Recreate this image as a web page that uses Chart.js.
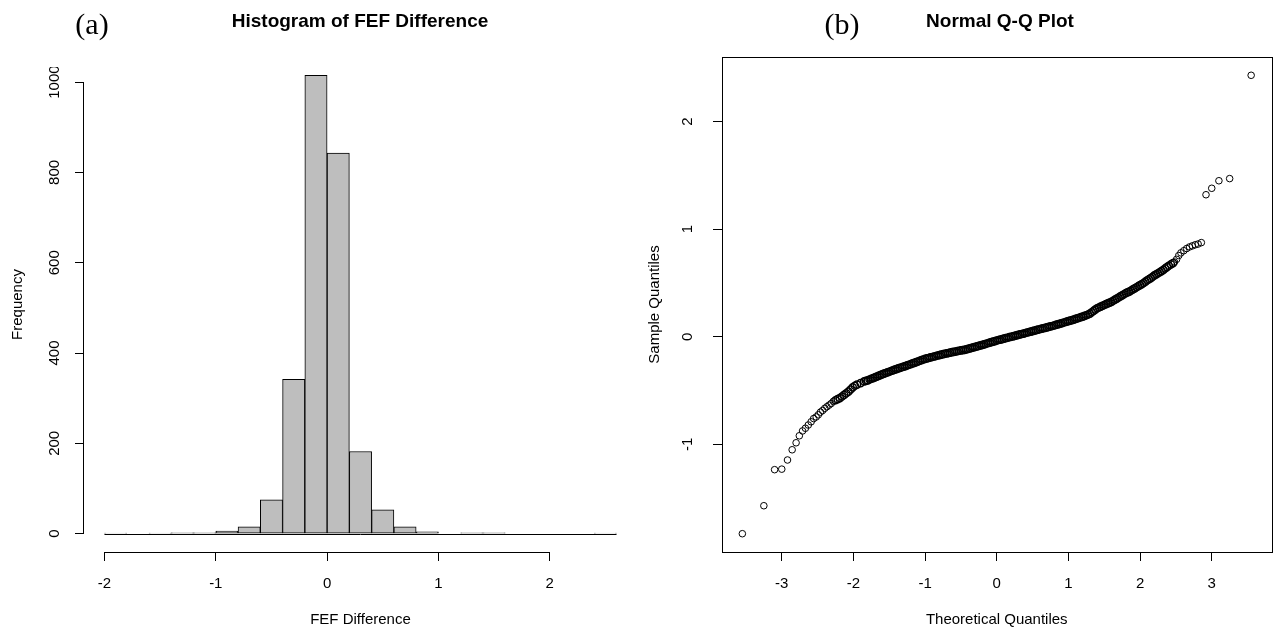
<!DOCTYPE html>
<html>
<head>
<meta charset="utf-8">
<script src="https://cdn.jsdelivr.net/npm/chart.js@4.4.0/dist/chart.umd.min.js"></script>
<style>
  html, body { margin: 0; padding: 0; background: #fff; overflow: hidden; }
  #wrap { position: relative; width: 1274px; height: 631px; }
  canvas { position: absolute; top: 0; }
  #histChart { left: 0; }
  #qqChart { left: 637px; }
</style>
</head>
<body>
<div id="wrap">
  <canvas id="histChart" width="640" height="631"></canvas>
  <canvas id="qqChart" width="640" height="631"></canvas>
</div>
<script>
// (a) histogram, bins of width 0.2
const binEdges = [-2.0, -1.8, -1.6, -1.4, -1.2, -1.0, -0.8, -0.6, -0.4, -0.2, 0.0, 0.2,
                  0.4, 0.6, 0.8, 1.0, 1.2, 1.4, 1.6, 1.8, 2.0, 2.2, 2.4, 2.6];
const binCounts = [1, 0, 1, 2, 2, 6, 15, 75, 342, 1015, 843, 182,
                   53, 15, 4, 0, 2, 2, 0, 0, 0, 0, 1];
const histXTicks = [-2, -1, 0, 1, 2];
const histYTicks = [0, 200, 400, 600, 800, 1000];

// (b) normal Q-Q plot
// sparse points in both tails
const qqTailX = [
  -3.55, -3.25, -3.10, -3.00, -2.92, -2.855, -2.80, -2.755, -2.71, -2.67, -2.63, -2.59,
  -2.555, -2.52, -2.49, -2.46, -2.43, -2.40, -2.37, -2.34, -2.31, -2.28,
  2.48, 2.51, 2.54, 2.57, 2.61, 2.65, 2.69, 2.73, 2.77, 2.81, 2.855,
  2.92, 3.00, 3.10, 3.25, 3.55
];
const qqTailY = [
  -1.83, -1.57, -1.235, -1.23, -1.145, -1.05, -0.985, -0.92, -0.875, -0.85, -0.82, -0.79,
  -0.76, -0.745, -0.725, -0.70, -0.685, -0.665, -0.65, -0.635, -0.62, -0.60,
  0.695, 0.72, 0.755, 0.78, 0.80, 0.82, 0.835, 0.845, 0.855, 0.862, 0.875,
  1.32, 1.38, 1.45, 1.47, 2.43
];
// the dense middle, where the circles pile up into a solid band
const qqBandX = [
  -2.25, -2.22, -2.19, -2.16, -2.13, -2.10, -2.07, -2.04, -2.01, -1.98, -1.95, -1.90, -1.85, -1.825,
  -1.800, -1.775, -1.750, -1.725, -1.700, -1.675, -1.650, -1.625, -1.600, -1.575, -1.550, -1.525,
  -1.500, -1.475, -1.450, -1.425, -1.400, -1.375, -1.350, -1.325, -1.300, -1.275, -1.250, -1.225,
  -1.200, -1.175, -1.150, -1.125, -1.100, -1.075, -1.050, -1.025, -1.000, -0.975, -0.950, -0.925,
  -0.900, -0.875, -0.850, -0.825, -0.800, -0.775, -0.750, -0.725, -0.700, -0.675, -0.650, -0.625,
  -0.600, -0.575, -0.550, -0.525, -0.500, -0.475, -0.450, -0.425, -0.400, -0.375, -0.350, -0.325,
  -0.300, -0.275, -0.250, -0.225, -0.200, -0.175, -0.150, -0.125, -0.100, -0.075, -0.050, -0.025,
  0.000, 0.025, 0.050, 0.075, 0.100, 0.125, 0.150, 0.175, 0.200, 0.225, 0.250, 0.275,
  0.300, 0.325, 0.350, 0.375, 0.400, 0.425, 0.450, 0.475, 0.500, 0.525, 0.550, 0.575,
  0.600, 0.625, 0.650, 0.675, 0.700, 0.725, 0.750, 0.775, 0.800, 0.825, 0.850, 0.875,
  0.900, 0.925, 0.950, 0.975, 1.000, 1.025, 1.050, 1.075, 1.100, 1.125, 1.150, 1.175,
  1.200, 1.225, 1.250, 1.275, 1.300, 1.325, 1.350, 1.375, 1.400, 1.425, 1.450, 1.475,
  1.500, 1.525, 1.550, 1.575, 1.600, 1.625, 1.650, 1.675, 1.700, 1.725, 1.750, 1.775,
  1.800, 1.825, 1.850, 1.875, 1.900, 1.925, 1.950, 1.975, 2.000, 2.025, 2.050, 2.075,
  2.100, 2.125, 2.150, 2.175, 2.200, 2.225, 2.250, 2.275, 2.300, 2.325, 2.350, 2.375, 2.400,
  2.43, 2.46
];
const qqBandY = [
  -0.59, -0.58, -0.57, -0.555, -0.54, -0.525, -0.51, -0.49, -0.47, -0.455, -0.445, -0.43, -0.415, -0.41,
  -0.405, -0.397, -0.390, -0.384, -0.378, -0.370, -0.363, -0.356, -0.350, -0.343, -0.337, -0.331,
  -0.325, -0.318, -0.312, -0.306, -0.300, -0.294, -0.289, -0.283, -0.278, -0.272, -0.266, -0.260,
  -0.255, -0.248, -0.242, -0.236, -0.230, -0.223, -0.217, -0.211, -0.205, -0.201, -0.197, -0.192,
  -0.188, -0.183, -0.179, -0.174, -0.170, -0.166, -0.162, -0.158, -0.155, -0.151, -0.147, -0.143,
  -0.140, -0.137, -0.134, -0.130, -0.127, -0.124, -0.121, -0.117, -0.113, -0.108, -0.103, -0.098,
  -0.094, -0.089, -0.085, -0.080, -0.075, -0.070, -0.065, -0.060, -0.055, -0.050, -0.045, -0.040,
  -0.035, -0.030, -0.026, -0.022, -0.018, -0.013, -0.009, -0.004, 0.000, 0.004, 0.009, 0.013,
  0.018, 0.022, 0.026, 0.030, 0.035, 0.040, 0.044, 0.048, 0.052, 0.057, 0.061, 0.066,
  0.070, 0.075, 0.079, 0.083, 0.087, 0.092, 0.096, 0.100, 0.105, 0.110, 0.115, 0.120,
  0.125, 0.130, 0.135, 0.140, 0.145, 0.150, 0.155, 0.160, 0.166, 0.171, 0.177, 0.182,
  0.188, 0.194, 0.200, 0.207, 0.215, 0.228, 0.240, 0.253, 0.265, 0.272, 0.280, 0.288,
  0.295, 0.303, 0.310, 0.318, 0.325, 0.335, 0.345, 0.355, 0.365, 0.375, 0.385, 0.395,
  0.405, 0.412, 0.420, 0.430, 0.440, 0.450, 0.460, 0.470, 0.480, 0.490, 0.500, 0.512,
  0.525, 0.535, 0.545, 0.558, 0.570, 0.580, 0.590, 0.600, 0.610, 0.622, 0.635, 0.647, 0.660,
  0.672, 0.685
];
const qqXTicks = [-3, -2, -1, 0, 1, 2, 3];
const qqYTicks = [-1, 0, 1, 2];

const sans = '"Liberation Sans", Arial, sans-serif';
const serif = '"Liberation Serif", "Times New Roman", serif';

// R-ish axis pieces that Chart.js does not draw by itself
function rDecor(cfg) {
  return {
    id: 'rDecor',
    afterDraw(chart) {
      const { ctx, chartArea: area } = chart;
      const xs = chart.scales.x, ys = chart.scales.y;
      ctx.save();
      ctx.strokeStyle = '#000';
      ctx.lineWidth = 1;

      if (cfg.box) {
        ctx.strokeRect(Math.round(area.left) + 0.5, Math.round(area.top) + 0.5,
          Math.round(area.right - area.left), Math.round(area.bottom - area.top));
      } else {
        // y axis line from first to last tick, x axis line likewise
        const ax = Math.round(area.left) - 0.5;
        ctx.beginPath();
        ctx.moveTo(ax, ys.getPixelForValue(cfg.yTicks[0]));
        ctx.lineTo(ax, ys.getPixelForValue(cfg.yTicks[cfg.yTicks.length - 1]));
        const by = Math.round(area.bottom) + 0.5;
        ctx.moveTo(xs.getPixelForValue(cfg.xTicks[0]), by);
        ctx.lineTo(xs.getPixelForValue(cfg.xTicks[cfg.xTicks.length - 1]), by);
        ctx.stroke();
        // empty bins show as a flat line along zero
        const zy = Math.round(ys.getPixelForValue(0)) + 0.5;
        ctx.beginPath();
        ctx.moveTo(xs.getPixelForValue(binEdges[0]), zy);
        ctx.lineTo(xs.getPixelForValue(binEdges[binEdges.length - 1]), zy);
        ctx.stroke();
      }

      // rotated y tick labels
      ctx.save();
      if (cfg.clipTop) {
        ctx.beginPath();
        ctx.rect(0, cfg.clipTop, chart.width, chart.height);
        ctx.clip();
      }
      ctx.fillStyle = '#000';
      ctx.font = '15px ' + sans;
      ctx.textAlign = 'center';
      ctx.textBaseline = 'middle';
      cfg.yTicks.forEach(v => {
        ctx.save();
        ctx.translate(cfg.yLabelX, ys.getPixelForValue(v));
        ctx.rotate(-Math.PI / 2);
        ctx.fillText(String(v), 0, 0);
        ctx.restore();
      });
      ctx.restore();

      // main title and panel letter
      ctx.fillStyle = '#000';
      ctx.textAlign = 'center';
      ctx.textBaseline = 'alphabetic';
      ctx.font = 'bold 19px ' + sans;
      ctx.fillText(cfg.title, cfg.titleX, 27);
      ctx.font = '30px ' + serif;
      ctx.fillText(cfg.letter, cfg.letterX, 34);
      ctx.restore();
    }
  };
}

function xAxis(ticks, min, max, title) {
  return {
    type: 'linear',
    position: 'bottom',
    min: min,
    max: max,
    offset: false,
    afterBuildTicks: s => { s.ticks = ticks.map(v => ({ value: v })); },
    afterFit: s => { s.height = 79; },
    border: { display: false },
    grid: { drawOnChartArea: false, offset: false, tickLength: 9, color: '#000' },
    ticks: {
      autoSkip: false, maxRotation: 0, padding: 14, color: '#000',
      font: { family: sans, size: 15 },
      callback: v => String(v)
    },
    title: { display: true, text: title, color: '#000', font: { family: sans, size: 15 },
      padding: { top: 0, bottom: 2 } }
  };
}

function yAxis(ticks, min, max, title, width) {
  return {
    type: 'linear',
    min: min,
    max: max,
    afterBuildTicks: s => { s.ticks = ticks.map(v => ({ value: v })); },
    afterFit: s => { s.width = width; },
    border: { display: false },
    grid: { drawOnChartArea: false, tickLength: 9, color: '#000' },
    ticks: { display: false },
    title: { display: true, text: title, color: '#000', font: { family: sans, size: 15 },
      padding: { top: 8.5, bottom: 0 } }
  };
}

const common = {
  responsive: false,
  animation: false,
  devicePixelRatio: 1,
  plugins: { legend: { display: false }, tooltip: { enabled: false } }
};

new Chart(document.getElementById('histChart'), {
  type: 'bar',
  data: {
    datasets: [{
      data: binCounts.map((c, i) => ({ x: (binEdges[i] + binEdges[i + 1]) / 2, y: c })),
      backgroundColor: '#bebebe',
      borderColor: '#000',
      borderWidth: 1,
      borderSkipped: false,
      barPercentage: 1,
      categoryPercentage: 1
    }]
  },
  options: {
    ...common,
    layout: { padding: { top: 57, left: 0, right: 3, bottom: 0 } },
    scales: {
      x: xAxis(histXTicks, -2.184, 2.784, 'FEF Difference'),
      y: yAxis(histYTicks, -40.6, 1055.6, 'Frequency', 84)
    }
  },
  plugins: [rDecor({ box: false, xTicks: histXTicks, yTicks: histYTicks, yLabelX: 55,
    clipTop: 67, title: 'Histogram of FEF Difference', titleX: 360, letter: '(a)', letterX: 92 })]
});

new Chart(document.getElementById('qqChart'), {
  type: 'scatter',
  data: {
    datasets: [{
      data: qqBandX.map((t, i) => ({ x: t, y: qqBandY[i] })),
      pointStyle: 'circle',
      pointRadius: 3.6,
      pointBorderWidth: 1.5,
      borderColor: '#000',
      backgroundColor: 'rgba(0,0,0,0)'
    }, {
      data: qqTailX.map((t, i) => ({ x: t, y: qqTailY[i] })),
      pointStyle: 'circle',
      pointRadius: 3.3,
      pointBorderWidth: 1,
      borderColor: '#000',
      backgroundColor: 'rgba(0,0,0,0)'
    }]
  },
  options: {
    ...common,
    layout: { padding: { top: 57, left: 0, right: 2, bottom: 0 } },
    scales: {
      x: xAxis(qqXTicks, -3.834, 3.834, 'Theoretical Quantiles'),
      y: yAxis(qqYTicks, -2.0, 2.6, 'Sample Quantiles', 85)
    }
  },
  plugins: [rDecor({ box: true, xTicks: qqXTicks, yTicks: qqYTicks, yLabelX: 51,
    title: 'Normal Q-Q Plot', titleX: 363, letter: '(b)', letterX: 205 })]
});
</script>
</body>
</html>
